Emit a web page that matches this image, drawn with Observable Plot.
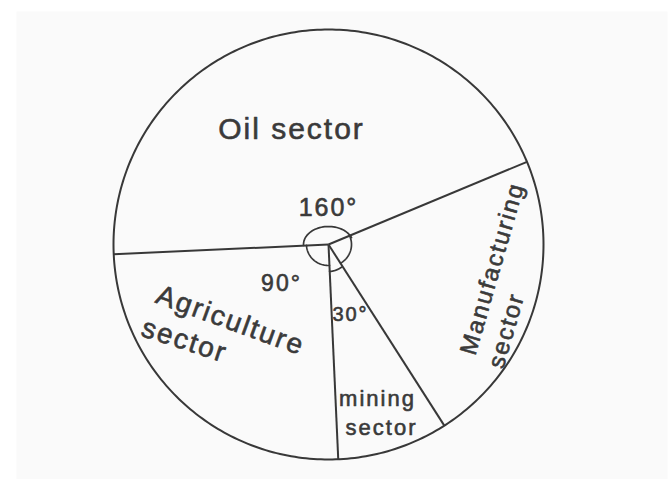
<!DOCTYPE html>
<html><head><meta charset="utf-8">
<script src="https://cdn.jsdelivr.net/npm/d3@7"></script>
<script src="https://cdn.jsdelivr.net/npm/@observablehq/plot@0.6"></script>
<style>
body{margin:0;background:#fff}
svg text{letter-spacing:2px}
</style>
</head><body><div id="chart"></div>
<script>
// Data (clockwise from the left radius)
const sectors = ["Oil sector", "Manufacturing sector", "mining sector", "Agriculture sector"];
const angles = [160, 80, 30, 90];
const angleLabels = ["160°", "", "30°", "90°"];

// Layout
const cx = 328, cy = 244, R = 215;
const startDeg = 267.4;
const rad = Math.PI / 180;
const pie = d3.pie().sort(null).value(d => d)
  .startAngle(startDeg * rad).endAngle((startDeg + 360) * rad)(angles);
const slices = pie.map((p, i) => ({name: sectors[i], a0: p.startAngle, a1: p.endAngle, label: angleLabels[i]}));

const circle = d3.range(0, 361, 1).map(d => ({a: d * rad}));
// small angle arcs near the centre (ellipse radii in px)
const arcRadii = [[25, 18], [23, 22], [24, 27], [22, 21]];
const arcs = slices.flatMap((s, i) => d3.range(0, 41).map(k => {
  const a = s.a0 + (s.a1 - s.a0) * k / 40;
  return {name: s.name, x: arcRadii[i][0] / R * Math.sin(a), y: arcRadii[i][1] / R * Math.cos(a)};
}));

// label placement (px from figure) -> unit coords
const u = (px, py) => [(px - cx) / R, (cy - py) / R];
const place = [
  // [text, px, py, rotate, size]
  [sectors[0], 291, 129, 0, 30],
  [angleLabels[0], 328, 207, 0, 25],
  [sectors[1].split(" ")[0], 492, 268, -74, 24],
  [sectors[1].split(" ")[1], 506, 330, -74, 24],
  [sectors[2].split(" ")[0], 377, 398, 0, 22],
  [sectors[2].split(" ")[1], 381, 427, 0, 22],
  [angleLabels[2], 350, 314, 0, 20],
  [sectors[3].split(" ")[0], 230, 320, 20, 28],
  [sectors[3].split(" ")[1], 184, 340, 18, 28],
  [angleLabels[3], 281, 283, 0, 23]
].map(([t, px, py, r, s]) => {
  const [x, y] = u(px, py);
  return {t, x, y, r, s};
});

const ink = "#383838";
const chart = Plot.plot({
  width: 672, height: 479,
  marginLeft: 16, marginTop: 11, marginRight: 5, marginBottom: 0,
  x: {domain: [-1, 1], range: [cx - R, cx + R], axis: null},
  y: {domain: [-1, 1], range: [cy + R, cy - R], axis: null},
  style: {background: "transparent", fontFamily: "'Liberation Sans', Arial, sans-serif"},
  marks: [
    Plot.frame({fill: "#fafafa", stroke: "none"}),
    Plot.line(circle, {x: d => Math.sin(d.a), y: d => Math.cos(d.a), stroke: ink, strokeWidth: 2}),
    Plot.link(slices, {x1: 0, y1: 0, x2: s => Math.sin(s.a0), y2: s => Math.cos(s.a0), stroke: ink, strokeWidth: 2}),
    Plot.line(arcs, {x: "x", y: "y", z: "name", stroke: ink, strokeWidth: 1.7}),
    Plot.text(place, {x: "x", y: "y", text: "t", rotate: "r", fontSize: "s", fill: "#3a3a3a", stroke: "#3a3a3a", strokeWidth: 0.6})
  ]
});
document.getElementById("chart").append(chart);
</script>
</body></html>
